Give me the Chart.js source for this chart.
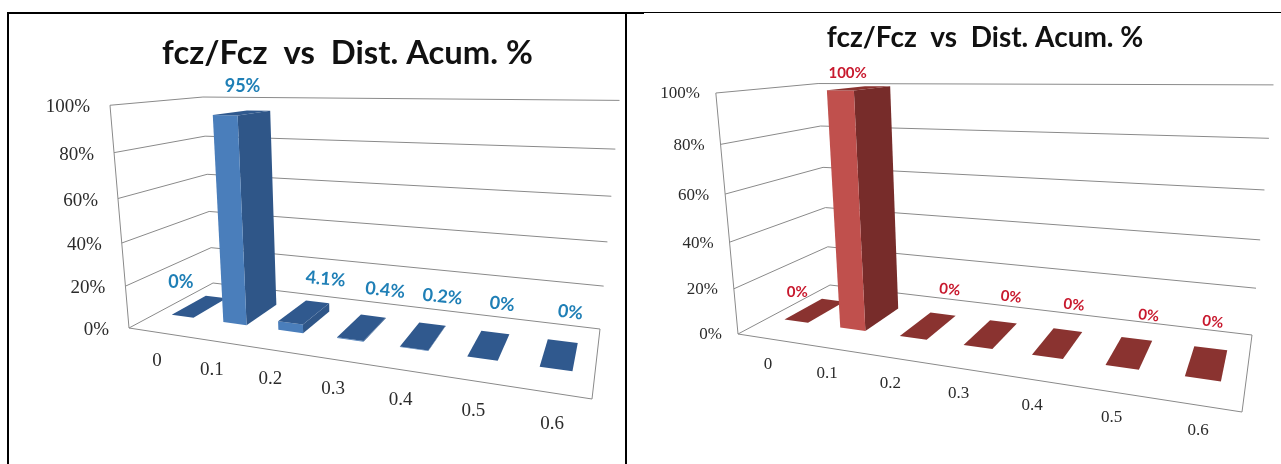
<!DOCTYPE html>
<html>
<head>
<meta charset="utf-8">
<title>fcz/Fcz vs Dist. Acum. %</title>
<script src="https://cdn.jsdelivr.net/npm/chart.js@4"></script>
<style>
    html, body { margin: 0; padding: 0; background: #fff; overflow: hidden; }
    canvas { position: absolute; }
    .rule { position: absolute; background: #000; }
</style>
</head>
<body>
<div class="rule" style="left:7px;top:12px;width:637px;height:2px"></div>
<div class="rule" style="left:644px;top:12px;width:637px;height:1px"></div>
<div class="rule" style="left:7px;top:12px;width:2px;height:452px"></div>
<div class="rule" style="left:625px;top:12px;width:2px;height:452px"></div>
<canvas id="leftChart" width="615" height="450" style="left:10px;top:14px"></canvas>
<canvas id="rightChart" width="653" height="450" style="left:628px;top:14px"></canvas>
<script>
const chartTitle = 'fcz/Fcz  vs  Dist. Acum. %';
const categories = ['0', '0.1', '0.2', '0.3', '0.4', '0.5', '0.6'];
const leftValues = [0, 95, 4.1, 0.4, 0.2, 0, 0];
const rightValues = [0, 100, 0, 0, 0, 0, 0];

// gaussian elimination, used to fit the perspective of each box
function solve(m, b) {
    const n = b.length;
    const a = m.map((row, i) => [...row, b[i]]);
    for (let c = 0; c < n; c++) {
        let p = c;
        for (let r = c + 1; r < n; r++) {
            if (Math.abs(a[r][c]) > Math.abs(a[p][c])) p = r;
        }
        [a[c], a[p]] = [a[p], a[c]];
        for (let r = 0; r < n; r++) {
            if (r === c) continue;
            const f = a[r][c] / a[c][c];
            for (let k = c; k <= n; k++) a[r][k] -= f * a[c][k];
        }
    }
    return a.map((row, i) => row[n] / row[i]);
}

// u runs along the categories, v from front to back of the floor, w up the value axis
function makeProjection(box, ox, oy) {
    const floor = [[0, 0, box.frontLeft], [1, 0, box.frontRight], [1, 1, box.backRight], [0, 1, box.backLeft]];
    const m = [];
    const b = [];
    floor.forEach(([u, v, p]) => {
        const x = p[0] - ox;
        const y = p[1] - oy;
        m.push([u, v, 1, 0, 0, 0, -u * x, -v * x]);
        b.push(x);
        m.push([0, 0, 0, u, v, 1, -u * y, -v * y]);
        b.push(y);
    });
    const h = solve(m, b);
    const base = (u, v) => [h[0] * u + h[1] * v + h[2], h[3] * u + h[4] * v + h[5], h[6] * u + h[7] * v + 1];

    const tops = [[0, 0, box.topFrontLeft], [0, 1, box.topBackLeft], [1, 1, box.topBackRight]];
    const ata = [[0, 0, 0], [0, 0, 0], [0, 0, 0]];
    const atb = [0, 0, 0];
    tops.forEach(([u, v, p]) => {
        const x = p[0] - ox;
        const y = p[1] - oy;
        const q = base(u, v);
        [[[1, 0, -x], x * q[2] - q[0]], [[0, 1, -y], y * q[2] - q[1]]].forEach(([row, val]) => {
            for (let i = 0; i < 3; i++) {
                for (let j = 0; j < 3; j++) ata[i][j] += row[i] * row[j];
                atb[i] += row[i] * val;
            }
        });
    });
    const t = solve(ata, atb);

    return (u, v, w) => {
        const q = base(u, v);
        const d = q[2] + w * t[2];
        return { x: (q[0] + w * t[0]) / d, y: (q[1] + w * t[1]) / d };
    };
}

function poly(ctx, pts, fill) {
    ctx.beginPath();
    pts.forEach((p, i) => (i ? ctx.lineTo(p.x, p.y) : ctx.moveTo(p.x, p.y)));
    ctx.closePath();
    ctx.fillStyle = fill;
    ctx.fill();
}

function segment(ctx, pts) {
    ctx.beginPath();
    pts.forEach((p, i) => (i ? ctx.lineTo(p.x, p.y) : ctx.moveTo(p.x, p.y)));
    ctx.stroke();
}

const boxView = {
    id: 'boxView',
    beforeDatasetsDraw(chart, args, opts) {
        const ctx = chart.ctx;
        const area = chart.chartArea;
        const xScale = chart.scales.x;
        const yScale = chart.scales.y;
        const project = makeProjection(opts.box, chart.canvas.offsetLeft, chart.canvas.offsetTop);
        const toU = px => (px - area.left) / area.width;
        const toW = py => (area.bottom - py) / area.height;

        ctx.save();
        ctx.strokeStyle = '#8a8a8a';
        ctx.lineWidth = 1;

        // walls and floor, one line per value tick
        yScale.ticks.forEach((tick, i) => {
            const w = toW(yScale.getPixelForTick(i));
            segment(ctx, [project(0, 0, w), project(0, 1, w), project(1, 1, w)]);
            const p = project(0, 0, w);
            ctx.fillStyle = '#2b2b2b';
            ctx.font = opts.tickFont;
            ctx.textAlign = 'right';
            ctx.textBaseline = 'middle';
            ctx.fillText(tick.label, p.x - opts.tickGap, p.y + opts.tickDrop);
        });
        segment(ctx, [project(0, 0, 0), project(0, 0, 1)]);
        segment(ctx, [project(0, 0, 0), project(1, 0, 0), project(1, 1, 0)]);

        xScale.ticks.forEach((tick, i) => {
            const u = toU(xScale.getPixelForTick(i));
            const p = project(u, 0, 0);
            ctx.fillStyle = '#2b2b2b';
            ctx.font = opts.tickFont;
            ctx.textAlign = 'center';
            ctx.textBaseline = 'middle';
            ctx.fillText(tick.label, p.x + opts.labelShift, p.y + opts.labelDrop[0] + u * opts.labelDrop[1]);
        });

        // bars, using the positions the library computed for them
        const values = chart.data.datasets[0].data;
        chart.getDatasetMeta(0).data.forEach((bar, i) => {
            const u0 = toU(bar.x - bar.width / 2);
            const u1 = toU(bar.x + bar.width / 2);
            const w = toW(bar.y);
            const v0 = opts.barFront;
            const v1 = opts.barBack;
            if (values[i] > 0) {
                poly(ctx, [project(u1, v0, 0), project(u1, v1, 0), project(u1, v1, w), project(u1, v0, w)], opts.sideColor);
                poly(ctx, [project(u0, v0, 0), project(u1, v0, 0), project(u1, v0, w), project(u0, v0, w)], opts.frontColor);
            }
            poly(ctx, [project(u0, v0, w), project(u1, v0, w), project(u1, v1, w), project(u0, v1, w)], opts.topColor);
        });

        // value labels sit above the middle of each bar top
        chart.getDatasetMeta(0).data.forEach((bar, i) => {
            const p = project(toU(bar.x), (opts.barFront + opts.barBack) / 2, toW(bar.y));
            const [dx, dy, tilt] = opts.valueNudge[i];
            ctx.save();
            ctx.translate(p.x + dx, p.y + dy);
            ctx.rotate(tilt * Math.PI / 180);
            ctx.fillStyle = opts.valueColor;
            ctx.font = opts.valueFont;
            ctx.textAlign = 'center';
            ctx.textBaseline = 'middle';
            ctx.fillText(values[i] + '%', 0, 0);
            ctx.restore();
        });
        ctx.restore();
        return false;
    }
};

function makeChart(id, values, titleSize, titleTop, leftPad, view) {
    return new Chart(document.getElementById(id), {
        type: 'bar',
        data: {
            labels: categories,
            datasets: [{ data: values, barPercentage: view.barShare, categoryPercentage: 1 }]
        },
        plugins: [boxView],
        options: {
            responsive: false,
            animation: false,
            layout: { padding: { left: leftPad } },
            scales: {
                x: { display: false, ticks: { autoSkip: false } },
                y: { display: false, min: 0, max: 100, ticks: { stepSize: 20, callback: v => v + '%' } }
            },
            plugins: {
                legend: { display: false },
                tooltip: { enabled: false },
                title: {
                    display: true,
                    text: chartTitle,
                    fullSize: false,
                    color: '#111',
                    font: { family: 'Lato', size: titleSize, weight: 'bold' },
                    padding: { top: titleTop, bottom: 0 }
                },
                boxView: view
            }
        }
    });
}

makeChart('leftChart', leftValues, 32.8, 20, 60, {
    box: {
        frontLeft: [129, 328], frontRight: [592, 399], backRight: [600, 329], backLeft: [213, 283],
        topFrontLeft: [108, 103], topBackLeft: [205, 96], topBackRight: [619, 104]
    },
    barShare: 0.43, barFront: 0.3, barBack: 0.72,
    frontColor: '#4a7ebb', sideColor: '#2f5688', topColor: '#30598e',
    valueColor: '#1f7fb6', valueFont: 'bold 18px Lato',
    tickFont: '19px "Liberation Serif"', tickGap: 20, tickDrop: 2, labelShift: 2, labelDrop: [29, 2.5],
    valueNudge: [[-19, -24, 0], [0, -27, 0], [21, -33, 5], [23, -37, 6], [19, -39, 6], [13, -41, 7], [11, -42, 7]]
});

makeChart('rightChart', rightValues, 28, 7, 61, {
    box: {
        frontLeft: [738, 334], frontRight: [1242, 412], backRight: [1252, 335], backLeft: [830, 285],
        topFrontLeft: [714, 89], topBackLeft: [820, 82], topBackRight: [1273, 91]
    },
    barShare: 0.43, barFront: 0.3, barBack: 0.72,
    frontColor: '#c0504d', sideColor: '#772c2a', topColor: '#8a3330',
    valueColor: '#c8192e', valueFont: 'bold 15px Lato',
    tickFont: '17px "Liberation Serif"', tickGap: 16, tickDrop: 1, labelShift: 2, labelDrop: [26, 0],
    valueNudge: [[-18, -18, 0], [-12, -15, 0], [21, -36, 6], [20, -37, 6], [16, -38, 6], [19, -37, 7], [6, -41, 7]]
});
</script>
</body>
</html>
